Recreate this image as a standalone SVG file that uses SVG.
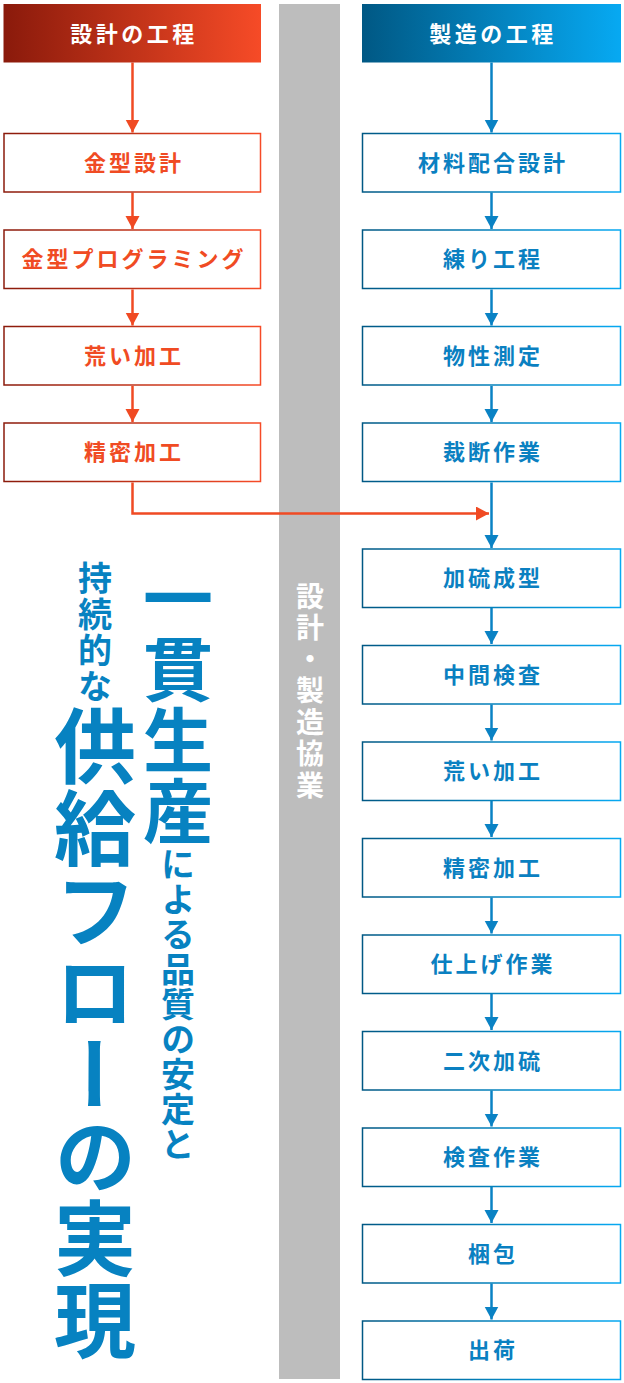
<svg xmlns="http://www.w3.org/2000/svg" width="624" height="1383" viewBox="0 0 624 1383">
<defs>
<linearGradient id="gRed" x1="0" y1="0" x2="1" y2="0"><stop offset="0" stop-color="#8A1A0B"/><stop offset="1" stop-color="#F64B27"/></linearGradient>
<linearGradient id="gBlue" x1="0" y1="0" x2="1" y2="0"><stop offset="0" stop-color="#005884"/><stop offset="1" stop-color="#07A9F2"/></linearGradient>
<marker id="aRed" markerUnits="userSpaceOnUse" markerWidth="15" markerHeight="15" refX="13" refY="7" orient="auto"><path d="M0,0 L13,7 L0,14 z" fill="#F04A23"/></marker>
<marker id="aBlue" markerUnits="userSpaceOnUse" markerWidth="15" markerHeight="15" refX="13" refY="7" orient="auto"><path d="M0,0 L13,7 L0,14 z" fill="#0A82C4"/></marker>
<style>
text{font-family:"Noto Sans CJK JP","Noto Sans",sans-serif;font-weight:700}
.hd{fill:#fff;font-size:22px;letter-spacing:3.5px;text-anchor:middle;dominant-baseline:central}
.lb{fill:#fff;stroke:url(#gRed);stroke-width:1.5}
.rb{fill:#fff;stroke:url(#gBlue);stroke-width:1.5}
.lt{fill:#F04B23;font-size:22px;letter-spacing:3px;text-anchor:middle;dominant-baseline:central}
.rt{fill:#0A80C1;font-size:22px;letter-spacing:3px;text-anchor:middle;dominant-baseline:central}
.la{stroke:#F04A23;stroke-width:2.5;fill:none;marker-end:url(#aRed)}
.ra{stroke:#0A82C4;stroke-width:2.5;fill:none;marker-end:url(#aBlue)}
.vt{writing-mode:vertical-rl;fill:#0782C1}
</style>
</defs>
<rect id="band" x="279" y="4" width="61" height="1375" fill="#BDBDBD"/>
<g id="connectors">
<path class="la" d="M132.5,62.5 V132.5"/>
<path class="la" d="M132.5,192.5 V229"/>
<path class="la" d="M132.5,289.5 V325.5"/>
<path class="la" d="M132.5,386 V422"/>
<path class="la" d="M132.5,482.5 V513.5 H489"/>
<path class="ra" d="M491.5,62.5 V132.5"/>
<path class="ra" d="M491.5,192.5 V229"/>
<path class="ra" d="M491.5,289.5 V325.5"/>
<path class="ra" d="M491.5,386 V422"/>
<path class="ra" d="M491.5,482.5 V548"/>
<path class="ra" d="M491.5,608 V644"/>
<path class="ra" d="M491.5,704.5 V740.5"/>
<path class="ra" d="M491.5,801 V837"/>
<path class="ra" d="M491.5,897.5 V933.5"/>
<path class="ra" d="M491.5,994 V1030"/>
<path class="ra" d="M491.5,1090.5 V1126.5"/>
<path class="ra" d="M491.5,1187 V1223"/>
<path class="ra" d="M491.5,1283.5 V1319.5"/>
</g>
<g id="hd-design"><rect x="3.5" y="4" width="257.5" height="58.5" fill="url(#gRed)"/><text class="hd" x="134" y="32">設計の工程</text></g>
<g id="hd-mfg"><rect x="362" y="4" width="259" height="58.5" fill="url(#gBlue)"/><text class="hd" x="493" y="32">製造の工程</text></g>
<g id="d1"><rect class="lb" x="4" y="133.5" width="256.5" height="58.5"/><text class="lt" x="134" y="160.5">金型設計</text></g>
<g id="d2"><rect class="lb" x="4" y="230" width="256.5" height="58.5"/><text class="lt" x="134" y="257">金型プログラミング</text></g>
<g id="d3"><rect class="lb" x="4" y="326.5" width="256.5" height="58.5"/><text class="lt" x="134" y="353.5">荒い加工</text></g>
<g id="d4"><rect class="lb" x="4" y="423" width="256.5" height="58.5"/><text class="lt" x="134" y="450">精密加工</text></g>
<g id="m1"><rect class="rb" x="362.5" y="133.5" width="258" height="58.5"/><text class="rt" x="493" y="160.5">材料配合設計</text></g>
<g id="m2"><rect class="rb" x="362.5" y="230" width="258" height="58.5"/><text class="rt" x="493" y="257">練り工程</text></g>
<g id="m3"><rect class="rb" x="362.5" y="326.5" width="258" height="58.5"/><text class="rt" x="493" y="353.5">物性測定</text></g>
<g id="m4"><rect class="rb" x="362.5" y="423" width="258" height="58.5"/><text class="rt" x="493" y="450">裁断作業</text></g>
<g id="m5"><rect class="rb" x="362.5" y="549" width="258" height="58.5"/><text class="rt" x="493" y="576">加硫成型</text></g>
<g id="m6"><rect class="rb" x="362.5" y="645.5" width="258" height="58.5"/><text class="rt" x="493" y="672.5">中間検査</text></g>
<g id="m7"><rect class="rb" x="362.5" y="742" width="258" height="58.5"/><text class="rt" x="493" y="769">荒い加工</text></g>
<g id="m8"><rect class="rb" x="362.5" y="838.5" width="258" height="58.5"/><text class="rt" x="493" y="865.5">精密加工</text></g>
<g id="m9"><rect class="rb" x="362.5" y="935" width="258" height="58.5"/><text class="rt" x="493" y="962">仕上げ作業</text></g>
<g id="m10"><rect class="rb" x="362.5" y="1031.5" width="258" height="58.5"/><text class="rt" x="493" y="1058.5">二次加硫</text></g>
<g id="m11"><rect class="rb" x="362.5" y="1128" width="258" height="58.5"/><text class="rt" x="493" y="1155">検査作業</text></g>
<g id="m12"><rect class="rb" x="362.5" y="1224.5" width="258" height="58.5"/><text class="rt" x="493" y="1251.5">梱包</text></g>
<g id="m13"><rect class="rb" x="362.5" y="1321" width="258" height="58.5"/><text class="rt" x="493" y="1348">出荷</text></g>
<g id="band-label"><text x="310" y="582" style="writing-mode:vertical-rl;fill:#fff;font-size:28px;letter-spacing:3.5px">設計・製造協業</text></g>
<g id="title">
<text class="vt" x="95" y="561"><tspan style="font-size:34px;letter-spacing:2px">持続的な</tspan><tspan style="font-size:82px">供給フローの実現</tspan></text>
<text class="vt" x="178" y="563"><tspan style="font-size:70px;letter-spacing:1px">一貫生産</tspan><tspan style="font-size:34px;letter-spacing:1px">による品質の安定と</tspan></text>
</g>
</svg>
